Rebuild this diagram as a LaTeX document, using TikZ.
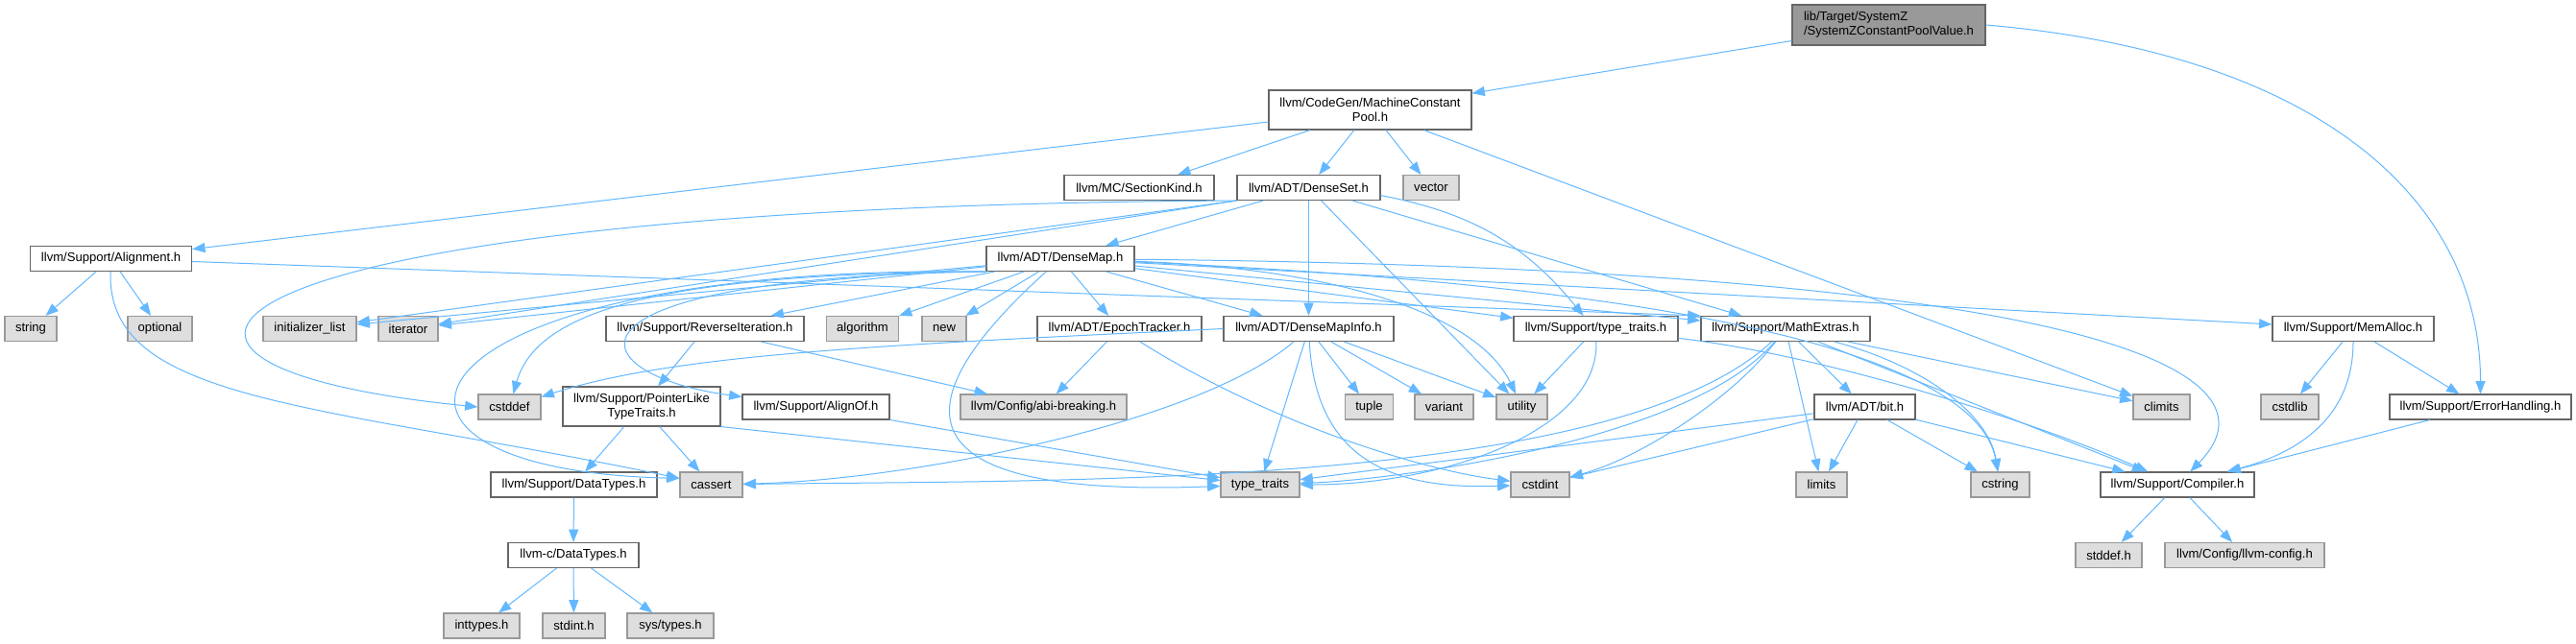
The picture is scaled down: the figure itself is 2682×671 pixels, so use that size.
\documentclass[tikz,border=0pt]{standalone}
\usepackage{fontspec}
\setmainfont{Liberation Sans}
\usetikzlibrary{arrows.meta}
\definecolor{edgeblue}{RGB}{99,184,255}
\definecolor{grey40}{RGB}{102,102,102}
\definecolor{grey60}{RGB}{153,153,153}
\definecolor{grey87}{RGB}{222,222,222}
\begin{document}
\begin{tikzpicture}[x=0.75pt,y=-0.75pt,
  hdr/.style={draw=grey40,fill=white,line width=0.8pt,minimum height=19.5pt,inner sep=1pt,
    font=\fontsize{9.8}{11.3}\selectfont},
  sys/.style={hdr,draw=grey60,fill=grey87},
  cur/.style={hdr,fill=grey60,minimum height=31.5pt},
  dep/.style={draw=edgeblue,line width=0.75pt,-{Triangle[length=10pt,width=7.5pt]}}]
  \fill[white] (0,0) rectangle (2682,671);
  \useasboundingbox (0,0) rectangle (2682,671);

  % --- top: the file itself and what it pulls in ---------------------------
  \node[cur,align=left,minimum width=150.75pt] (sz) at (1966.5,26) {lib/Target/SystemZ\\/SystemZConstantPoolValue.h};
  \node[hdr,align=center,minimum width=158.25pt,minimum height=30.75pt] (mcp) at (1426.5,114.5) {llvm/CodeGen/MachineConstant\\Pool.h};
  \node[hdr,minimum width=117pt] (sk) at (1186,195.5) {llvm/MC/SectionKind.h};
  \node[hdr,minimum width=111.75pt] (ds) at (1362.5,195.5) {llvm/ADT/DenseSet.h};
  \node[sys,minimum width=43.5pt] (vector) at (1490,195.5) {vector};
  \node[hdr,minimum width=126pt] (align) at (115.6,269.5) {llvm/Support/Alignment.h};
  \node[hdr,minimum width=115.5pt] (dm) at (1104,269.5) {llvm/ADT/DenseMap.h};

  % --- row 1 ------------------------------------------------------------------
  \node[sys,minimum width=40.5pt] (string) at (32,342.5) {string};
  \node[sys,minimum width=50.25pt] (optional) at (166.5,342.5) {optional};
  \node[sys,minimum width=72.75pt] (initlist) at (322.5,342.5) {initializer\_list};
  \node[sys,minimum width=46.5pt] (iterator) at (425,342.5) {iterator};
  \node[hdr,minimum width=154.5pt] (revit) at (734,342.5) {llvm/Support/ReverseIteration.h};
  \node[sys,minimum width=56.25pt] (algorithm) at (898,342.5) {algorithm};
  \node[sys,minimum width=34.5pt] (new) at (983,342.5) {new};
  \node[hdr,minimum width=128.25pt] (epoch) at (1165.5,342.5) {llvm/ADT/EpochTracker.h};
  \node[hdr,minimum width=132.75pt] (dmi) at (1362.5,342.5) {llvm/ADT/DenseMapInfo.h};
  \node[hdr,minimum width=128.25pt] (tt) at (1661.5,342.5) {llvm/Support/type\_traits.h};
  \node[hdr,minimum width=132pt] (me) at (1859,342.5) {llvm/Support/MathExtras.h};
  \node[hdr,minimum width=126pt] (memalloc) at (2450,342.5) {llvm/Support/MemAlloc.h};

  % --- row 2 ------------------------------------------------------------------
  \node[sys,minimum width=48.75pt] (cstddef) at (530.5,424) {cstddef};
  \node[hdr,align=center,minimum width=123pt,minimum height=30.75pt] (pltt) at (668,423.5) {llvm/Support/PointerLike\\TypeTraits.h};
  \node[hdr,minimum width=114.75pt] (alignof) at (849.5,424) {llvm/Support/AlignOf.h};
  \node[sys,minimum width=129.75pt] (abi) at (1086.5,424) {llvm/Config/abi-breaking.h};
  \node[sys,minimum width=37.5pt] (tuple) at (1425.5,424) {tuple};
  \node[sys,minimum width=45.75pt] (variant) at (1503.5,424) {variant};
  \node[sys,minimum width=39.75pt] (utility) at (1584.5,424) {utility};
  \node[hdr,minimum width=78.75pt] (bit) at (1941.5,424) {llvm/ADT/bit.h};
  \node[sys,minimum width=44.25pt] (climits) at (2250.5,424) {climits};
  \node[sys,minimum width=45pt] (cstdlib) at (2384,424) {cstdlib};
  \node[hdr,minimum width=141.75pt] (eh) at (2582.5,424) {llvm/Support/ErrorHandling.h};

  % --- row 3 ------------------------------------------------------------------
  \node[hdr,minimum width=129.75pt] (dt) at (597.5,505) {llvm/Support/DataTypes.h};
  \node[sys,minimum width=48.75pt] (cassert) at (740.5,505) {cassert};
  \node[sys,minimum width=61.5pt] (stdtt) at (1312,505) {type\_traits};
  \node[sys,minimum width=45.75pt] (cstdint) at (1603.5,505) {cstdint};
  \node[sys,minimum width=39.75pt] (limits) at (1896.5,505) {limits};
  \node[sys,minimum width=45.75pt] (cstring) at (2082.5,505) {cstring};
  \node[hdr,minimum width=120pt] (compiler) at (2267,505) {llvm/Support/Compiler.h};

  % --- rows 4 and 5 -------------------------------------------------------------
  \node[hdr,minimum width=102pt] (cdt) at (597,578.5) {llvm-c/DataTypes.h};
  \node[sys,minimum width=51.75pt] (stddef) at (2195.5,578.5) {stddef.h};
  \node[sys,minimum width=124.5pt] (llvmcfg) at (2337,578.5) {llvm/Config/llvm-config.h};
  \node[sys,minimum width=59.25pt] (inttypes) at (501.5,652) {inttypes.h};
  \node[sys,minimum width=48.75pt] (stdint) at (597.5,652) {stdint.h};
  \node[sys,minimum width=67.5pt] (systypes) at (698,652) {sys/types.h};

  % --- edges: file and MachineConstantPool ------------------------------------
  \draw[dep] (sz) -- (mcp);
  \draw[dep] (sz.east) .. controls +(350,30) and +(0,-200) .. (eh.north);
  \draw[dep] (mcp) -- (align);
  \draw[dep] (mcp) -- (sk);
  \draw[dep] (mcp) -- (ds);
  \draw[dep] (mcp) -- (vector);
  \draw[dep] (mcp) -- (climits);

  % --- DenseSet ---------------------------------------------------------------
  \draw[dep] (ds) -- (dm);
  \draw[dep] (ds) -- (dmi);
  \draw[dep] (ds.south west) -- (initlist);
  \draw[dep] (ds.south west) -- (iterator);
  \draw[dep] (ds.south west) .. controls (188,215) and (50,380) .. (cstddef.west);
  \draw[dep] (ds) -- (utility);
  \draw[dep] (ds) to[bend left=20] (tt);
  \draw[dep] (ds) -- (me);

  % --- DenseMap ---------------------------------------------------------------
  \draw[dep] (dm) -- (initlist);
  \draw[dep] (dm) -- (iterator);
  \draw[dep] (dm.south west) .. controls (700,285) and (560,320) .. (cstddef);
  \draw[dep] (dm.south west) .. controls (400,275) and (330,490) .. ([yshift=5pt]cassert.west);
  \draw[dep] (dm) -- (revit);
  \draw[dep] (dm) -- (algorithm);
  \draw[dep] (dm) -- (new);
  \draw[dep] (dm) -- (epoch);
  \draw[dep] (dm) -- (dmi);
  \draw[dep] (dm.south west) .. controls (560,290) and (600,390) .. (alignof);
  \draw[dep] (dm) .. controls (960,400) and (900,520) .. (stdtt);
  \draw[dep] (dm) .. controls (1400,280) and (1540,330) .. (utility);
  \draw[dep] (dm) -- (tt);
  \draw[dep] (dm) -- (me);
  \draw[dep] (dm) -- (memalloc);
  \draw[dep] (dm) .. controls (2200,280) and (2380,390) .. (compiler);
  \draw[dep] (dm) .. controls (1800,300) and (2060,380) .. (cstring);

  % --- DenseMapInfo, EpochTracker, ReverseIteration -----------------------------
  \draw[dep] (dmi) .. controls (1250,440) and (950,500) .. (cassert);
  \draw[dep] (dmi.west) .. controls (900,360) and (700,370) .. (cstddef);
  \draw[dep] (dmi) -- (stdtt);
  \draw[dep] (dmi) .. controls (1370,480) and (1450,510) .. (cstdint);
  \draw[dep] (dmi) -- (tuple);
  \draw[dep] (dmi) -- (variant);
  \draw[dep] (dmi) -- (utility);
  \draw[dep] (epoch) -- (abi);
  \draw[dep] (epoch) .. controls (1320,440) and (1480,490) .. (cstdint);
  \draw[dep] (revit) -- (pltt);
  \draw[dep] (revit) -- (abi);

  % --- PointerLikeTypeTraits, AlignOf, DataTypes --------------------------------
  \draw[dep] (pltt) -- (dt);
  \draw[dep] (pltt) -- (cassert);
  \draw[dep] (pltt.south east) -- (stdtt);
  \draw[dep] (alignof) -- (stdtt);
  \draw[dep] (dt) -- (cdt);
  \draw[dep] (cdt) -- (inttypes);
  \draw[dep] (cdt) -- (stdint);
  \draw[dep] (cdt) -- (systypes);

  % --- Alignment ----------------------------------------------------------------
  \draw[dep] (align) -- (string);
  \draw[dep] (align) -- (optional);
  \draw[dep] (align) .. controls (110,420) and (330,420) .. ([yshift=5pt]cassert.west);
  \draw[dep] (align) -- (me.north west);

  % --- type_traits.h and MathExtras ---------------------------------------------
  \draw[dep] (tt) -- (utility);
  \draw[dep] (tt) .. controls (1665,450) and (1500,505) .. (stdtt);
  \draw[dep] (tt) .. controls (1900,370) and (2120,440) .. (compiler);
  \draw[dep] (me) .. controls (1680,510) and (1100,500) .. (cassert);
  \draw[dep] (me) .. controls (1760,460) and (1450,500) .. (stdtt);
  \draw[dep] (me) .. controls (1800,420) and (1700,480) .. (cstdint);
  \draw[dep] (me) -- (bit);
  \draw[dep] (me) -- (limits);
  \draw[dep] (me) .. controls (2000,380) and (2070,430) .. (cstring);
  \draw[dep] (me) -- (compiler);
  \draw[dep] (me) -- (climits);

  % --- bit, MemAlloc, ErrorHandling, Compiler -----------------------------------
  \draw[dep] (bit) -- (stdtt);
  \draw[dep] (bit) -- (cstdint);
  \draw[dep] (bit) -- (limits);
  \draw[dep] (bit) -- (cstring);
  \draw[dep] (bit) -- (compiler);
  \draw[dep] (memalloc) -- (cstdlib);
  \draw[dep] (memalloc) -- (eh);
  \draw[dep] (memalloc) .. controls (2450,430) and (2400,470) .. (compiler);
  \draw[dep] (eh) -- (compiler);
  \draw[dep] (compiler) -- (stddef);
  \draw[dep] (compiler) -- (llvmcfg);
\end{tikzpicture}
\end{document}
